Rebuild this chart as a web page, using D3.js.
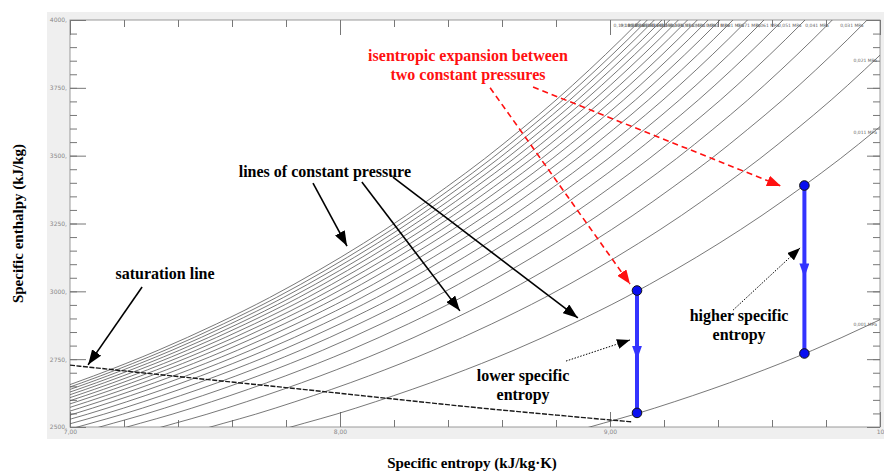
<!DOCTYPE html>
<html>
<head>
<meta charset="utf-8">
<script src="https://cdn.jsdelivr.net/npm/d3@7"></script>
<style>
  body { margin: 0; background: #fff; }
  svg { display: block; }
</style>
</head>
<body>
<div class="container"></div>
<script>
const width = 884;
const height = 472;

// isobars, pressure in MPa and entropy offset from the 0.001 MPa line (kJ/kg·K)
const pressures = [0.001, 0.011, 0.021, 0.031, 0.041, 0.051, 0.061, 0.071, 0.081, 0.091,
                   0.101, 0.111, 0.121, 0.131, 0.141, 0.151, 0.161, 0.171, 0.181, 0.191];
const isobarShift = [0, 1.107, 1.405, 1.585, 1.714, 1.815, 1.897, 1.967, 2.028, 2.082,
                     2.130, 2.174, 2.214, 2.250, 2.284, 2.316, 2.345, 2.373, 2.399, 2.424];

// the 0.001 MPa isobar, entropy / enthalpy
const refS = [8.80, 8.975, 9.092, 9.238, 9.511, 9.751, 9.967, 10.163, 10.344, 10.511, 10.670, 10.818, 10.960, 11.095, 11.224, 11.347, 11.466, 11.691];
const refH = [2465, 2514, 2547, 2593, 2688, 2783, 2880, 2977, 3077, 3177, 3280, 3384, 3489, 3597, 3705, 3816, 3929, 4159];

// saturated vapour line
const satS = [7.00, 7.40, 7.85, 8.20, 8.52, 8.80, 9.00, 9.08];
const satH = [2728, 2686, 2640, 2603, 2570, 2544, 2526, 2519];

// the two isentropic expansions
const expS = [9.10, 9.72];
const expHigh = [3003, 3390];
const expLow = [2552, 2771];

const xMajor = [7, 8, 9, 10];
const yMajor = [2500, 2750, 3000, 3250, 3500, 3750, 4000];

const x = d3.scaleLinear().domain([7, 10]).range([70, 880]);
const y = d3.scaleLinear().domain([2500, 4000]).range([427, 20]);

const svg = d3.select(".container")
  .append("svg")
  .attr("width", width)
  .attr("height", height)
  .style("font-family", "'Liberation Serif', 'Times New Roman', serif");

const defs = svg.append("defs");
defs.append("clipPath").attr("id", "plot")
  .append("rect")
  .attr("x", x(7)).attr("y", y(4000))
  .attr("width", x(10) - x(7)).attr("height", y(2500) - y(4000));

const marker = (id, color, w, l) => defs.append("marker")
  .attr("id", id)
  .attr("viewBox", `0 -${w / 2} ${l} ${w}`)
  .attr("refX", l).attr("refY", 0)
  .attr("markerUnits", "userSpaceOnUse")
  .attr("markerWidth", l).attr("markerHeight", w)
  .attr("orient", "auto")
  .append("path")
  .attr("d", `M0,-${w / 2}L${l},0L0,${w / 2}Z`)
  .attr("fill", color);
marker("headBlack", "#000", 11, 15);
marker("headRed", "#ff1010", 11, 14);
marker("headSmall", "#000", 10, 13);
marker("headBlue", "#3434ff", 10, 14);

// grey frame round the plot
svg.append("rect")
  .attr("x", 47).attr("y", 12)
  .attr("width", width - 47).attr("height", 427)
  .attr("fill", "#efefef");
svg.append("rect")
  .attr("x", x(7)).attr("y", y(4000))
  .attr("width", x(10) - x(7)).attr("height", y(2500) - y(4000))
  .attr("fill", "#fff")
  .attr("stroke", "#9a9a9a");

// ticks
const fmtX = d => d === 10 ? "10" : d3.format(".2f")(d).replace(".", ",");
const fmtY = d => d + ",";
const xMinor = d3.range(7, 10.001, 0.2).map(d => +d.toFixed(1));
const yMinor = d3.range(2500, 4001, 50);

const tickStyle = g => {
  g.select(".domain").remove();
  g.selectAll(".tick line").attr("stroke", "#777");
  g.selectAll(".tick text").attr("fill", "#888").style("font-family", "'DejaVu Sans', sans-serif").style("font-size", "6px");
};

svg.append("g").attr("transform", `translate(0,${y(2500)})`)
  .call(d3.axisBottom(x).tickValues(xMinor).tickSize(-7).tickFormat("")).call(tickStyle);
svg.append("g").attr("transform", `translate(0,${y(2500)})`)
  .call(d3.axisBottom(x).tickValues(xMajor).tickSize(-15).tickPadding(3).tickFormat(fmtX)).call(tickStyle);
svg.append("g").attr("transform", `translate(0,${y(4000)})`)
  .call(d3.axisTop(x).tickValues(xMinor).tickSize(-7).tickFormat("")).call(tickStyle);
svg.append("g").attr("transform", `translate(0,${y(4000)})`)
  .call(d3.axisTop(x).tickValues(xMajor).tickSize(-15).tickFormat("")).call(tickStyle);

svg.append("g").attr("transform", `translate(${x(7)},0)`)
  .call(d3.axisLeft(y).tickValues(yMinor).tickSize(-7).tickFormat("")).call(tickStyle);
svg.append("g").attr("transform", `translate(${x(7)},0)`)
  .call(d3.axisLeft(y).tickValues(yMajor).tickSize(-16).tickPadding(3).tickFormat(fmtY)).call(tickStyle);
svg.append("g").attr("transform", `translate(${x(10)},0)`)
  .call(d3.axisRight(y).tickValues(yMinor).tickSize(-7).tickFormat("")).call(tickStyle);
svg.append("g").attr("transform", `translate(${x(10)},0)`)
  .call(d3.axisRight(y).tickValues(yMajor).tickSize(-13).tickFormat("")).call(tickStyle);

// isobars
const line = d3.line().x(d => x(d[0])).y(d => y(d[1])).curve(d3.curveMonotoneX);
const isobars = pressures.map((p, i) => ({
  p,
  pts: refS.map((s, j) => [s - isobarShift[i], refH[j]])
}));

const plot = svg.append("g").attr("clip-path", "url(#plot)");
plot.selectAll("path.isobar")
  .data(isobars)
  .join("path")
  .attr("class", "isobar")
  .attr("d", d => line(d.pts))
  .attr("fill", "none")
  .attr("stroke", "#555")
  .attr("stroke-width", 0.8);

// saturation line
plot.append("path")
  .attr("d", line(satS.map((s, i) => [s, satH[i]])))
  .attr("fill", "none")
  .attr("stroke", "#1a1a1a")
  .attr("stroke-width", 1.4)
  .attr("stroke-dasharray", "5,1.5");

// labels where each isobar leaves the plot
const exitPoint = pts => {
  for (let i = 1; i < pts.length; i++) {
    const [s0, h0] = pts[i - 1], [s1, h1] = pts[i];
    if (s1 >= 10 || h1 >= 4000) {
      const ts = s1 > 10 ? (10 - s0) / (s1 - s0) : 1;
      const th = h1 > 4000 ? (4000 - h0) / (h1 - h0) : 1;
      const t = Math.min(ts, th);
      return [s0 + t * (s1 - s0), h0 + t * (h1 - h0)];
    }
  }
  return pts[pts.length - 1];
};
svg.append("g")
  .selectAll("text")
  .data(isobars)
  .join("text")
  .attr("x", d => Math.min(x(exitPoint(d.pts)[0]), x(10)) - 3)
  .attr("y", d => y(exitPoint(d.pts)[1]) + 7)
  .attr("text-anchor", "end")
  .attr("fill", "#666")
  .style("font-family", "'DejaVu Sans', sans-serif")
  .style("font-size", "4.5px")
  .text(d => d3.format(".3f")(d.p).replace(".", ",") + " MPa");

// isentropic expansions
const exp = svg.append("g");
expS.forEach((s, i) => {
  exp.append("line")
    .attr("x1", x(s)).attr("x2", x(s))
    .attr("y1", y(expHigh[i])).attr("y2", y(expLow[i]))
    .attr("stroke", "#3434ff").attr("stroke-width", 4);
  exp.append("line")
    .attr("x1", x(s)).attr("x2", x(s))
    .attr("y1", y(expHigh[i])).attr("y2", y((expHigh[i] + expLow[i]) / 2) + 8)
    .attr("stroke", "none")
    .attr("marker-end", "url(#headBlue)");
  [expHigh[i], expLow[i]].forEach(h => {
    exp.append("circle")
      .attr("cx", x(s)).attr("cy", y(h)).attr("r", 4.8)
      .attr("fill", "#0a0ff0").attr("stroke", "#111").attr("stroke-width", 1);
  });
});

// annotations, placed in entropy / enthalpy units
const notes = [
  { lines: ["saturation line"], s: 7.352, h: 3049, color: "#000" },
  { lines: ["lines of constant pressure"], s: 7.944, h: 3425, color: "#000" },
  { lines: ["isentropic expansion between", "two constant pressures"], s: 8.474, h: 3853, color: "#ff1010" },
  { lines: ["lower specific", "entropy"], s: 8.678, h: 2673, color: "#000" },
  { lines: ["higher specific", "entropy"], s: 9.478, h: 2894, color: "#000" }
];
const arrows = [
  { from: [7.267, 3016], to: [7.067, 2729], kind: "solid" },
  { from: [7.90, 3399], to: [8.026, 3167], kind: "solid" },
  { from: [8.081, 3403], to: [8.444, 2928], kind: "solid" },
  { from: [8.196, 3421], to: [8.881, 2902], kind: "solid" },
  { from: [8.556, 3750], to: [9.074, 3027], kind: "red" },
  { from: [8.715, 3753], to: [9.633, 3388], kind: "red" },
  { from: [8.837, 2743], to: [9.074, 2821], kind: "dotted" },
  { from: [9.456, 2931], to: [9.704, 3160], kind: "dotted" }
];

svg.append("g")
  .selectAll("line")
  .data(arrows)
  .join("line")
  .attr("x1", d => x(d.from[0])).attr("y1", d => y(d.from[1]))
  .attr("x2", d => x(d.to[0])).attr("y2", d => y(d.to[1]))
  .attr("stroke", d => d.kind === "red" ? "#ff1010" : "#000")
  .attr("stroke-width", d => d.kind === "dotted" ? 1 : 1.6)
  .attr("stroke-dasharray", d => d.kind === "red" ? "6,4" : d.kind === "dotted" ? "1.5,1.5" : null)
  .attr("marker-end", d => d.kind === "red" ? "url(#headRed)" : d.kind === "dotted" ? "url(#headSmall)" : "url(#headBlack)");

const noteG = svg.append("g")
  .attr("text-anchor", "middle")
  .style("font-weight", "bold")
  .style("font-size", "16px");
notes.forEach(n => {
  n.lines.forEach((t, i) => {
    noteG.append("text")
      .attr("x", x(n.s))
      .attr("y", y(n.h) + 1 + i * 19)
      .attr("fill", n.color)
      .text(t);
  });
});

// axis titles
svg.append("text")
  .attr("transform", `translate(23,${(y(2500) + y(4000)) / 2}) rotate(-90)`)
  .attr("text-anchor", "middle")
  .style("font-weight", "bold")
  .style("font-size", "15px")
  .text("Specific enthalpy (kJ/kg)");
svg.append("text")
  .attr("x", 472).attr("y", 468)
  .attr("text-anchor", "middle")
  .style("font-weight", "bold")
  .style("font-size", "15px")
  .text("Specific entropy (kJ/kg·K)");
</script>
</body>
</html>
